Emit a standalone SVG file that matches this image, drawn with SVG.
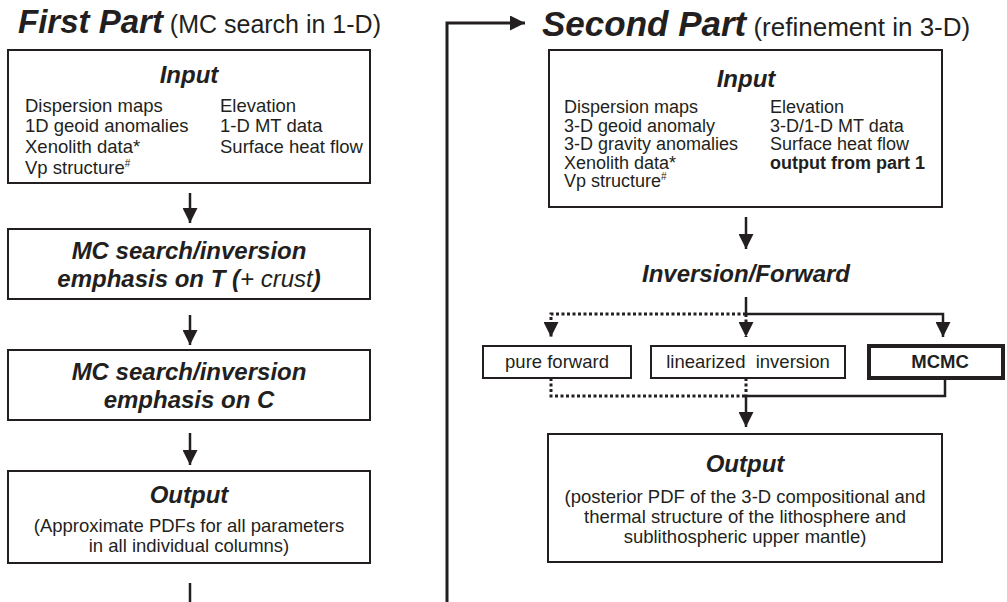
<svg xmlns="http://www.w3.org/2000/svg" width="1007" height="602" viewBox="0 0 1007 602">
<style>
text{font-family:"Liberation Sans",Arial,sans-serif;fill:#231f20}
.title{font-size:33px;font-weight:bold;font-style:italic}
.sub{font-size:25px}
.title2{font-size:35px;font-weight:bold;font-style:italic}
.sub2{font-size:26px}
.head{font-size:24px;font-weight:bold;font-style:italic}
.body{font-size:18.5px}
.body2{font-size:18px}
.bold{font-weight:bold}
.box{fill:#fff;stroke:#231f20;stroke-width:2}
.thick{fill:#fff;stroke:#231f20;stroke-width:4}
.line{fill:none;stroke:#231f20;stroke-width:2.5}
.dot{fill:none;stroke:#231f20;stroke-width:3;stroke-dasharray:3 2.5}
.mid{text-anchor:middle}
</style>
<defs>
<marker id="ah" viewBox="0 0 10 10" refX="10" refY="5" markerUnits="userSpaceOnUse" markerWidth="15" markerHeight="15" orient="auto">
<path d="M0,0 L10,5 L0,10 z" fill="#231f20"/>
</marker>
</defs>

<g id="title-first">
<text x="18" y="33"><tspan class="title">First Part</tspan><tspan class="sub"> (MC search in 1-D)</tspan></text>
</g>
<g id="title-second">
<text x="542" y="36"><tspan class="title2">Second Part</tspan><tspan class="sub2"> (refinement in 3-D)</tspan></text>
</g>

<g id="connectors">
<line class="line" x1="190" y1="193" x2="190" y2="223" marker-end="url(#ah)"/>
<line class="line" x1="190" y1="315" x2="190" y2="345" marker-end="url(#ah)"/>
<line class="line" x1="190" y1="433" x2="190" y2="465" marker-end="url(#ah)"/>
<line class="line" x1="190" y1="583" x2="190" y2="602"/>
<path class="line" style="stroke-width:3" d="M447,602 V23 H525" marker-end="url(#ah)"/>
<line class="line" x1="746" y1="217" x2="746" y2="249" marker-end="url(#ah)"/>
<line class="line" x1="746" y1="297" x2="746" y2="314"/>
<path class="line" d="M746,314 H943 V337" marker-end="url(#ah)"/>
<path class="dot" d="M746,314 H551 V337" marker-end="url(#ah)"/>
<path class="dot" d="M746,314 V337" marker-end="url(#ah)"/>
<path class="dot" d="M551,378 V396 H746"/>
<path class="dot" d="M746,378 V396"/>
<path class="line" d="M945,379 V396 H746"/>
<path class="line" d="M746,396 V427" marker-end="url(#ah)"/>
</g>

<g id="input-1">
<rect class="box" x="8" y="50" width="362" height="133"/>
<text class="head mid" x="189" y="83">Input</text>
<text class="body" x="25" y="112">Dispersion maps</text>
<text class="body" x="25" y="132">1D geoid anomalies</text>
<text class="body" x="25" y="153">Xenolith data*</text>
<text class="body" x="25" y="174">Vp structure<tspan font-size="10" dy="-7">#</tspan></text>
<text class="body" x="220" y="112">Elevation</text>
<text class="body" x="220" y="132">1-D MT data</text>
<text class="body" x="220" y="153">Surface heat flow</text>
</g>

<g id="mc-t">
<rect class="box" x="8" y="229" width="362" height="70"/>
<text class="head mid" x="189" y="259">MC search/inversion</text>
<text class="head mid" x="189" y="287">emphasis on T (<tspan font-weight="normal">+ crust</tspan>)</text>
</g>

<g id="mc-c">
<rect class="box" x="8" y="350" width="362" height="70"/>
<text class="head mid" x="189" y="380">MC search/inversion</text>
<text class="head mid" x="189" y="408">emphasis on C</text>
</g>

<g id="output-1">
<rect class="box" x="8" y="471" width="362" height="92"/>
<text class="head mid" x="189" y="503">Output</text>
<text class="body mid" x="189" y="532">(Approximate PDFs for all parameters</text>
<text class="body mid" x="189" y="552">in all individual columns)</text>
</g>

<g id="input-2">
<rect class="box" x="549" y="50" width="393" height="157"/>
<text class="head mid" x="746" y="87">Input</text>
<text class="body2" x="564" y="113">Dispersion maps</text>
<text class="body2" x="564" y="131.5">3-D geoid anomaly</text>
<text class="body2" x="564" y="150">3-D gravity anomalies</text>
<text class="body2" x="564" y="168.5">Xenolith data*</text>
<text class="body2" x="564" y="187">Vp structure<tspan font-size="10" dy="-7">#</tspan></text>
<text class="body2" x="770" y="113">Elevation</text>
<text class="body2" x="770" y="131.5">3-D/1-D MT data</text>
<text class="body2" x="770" y="150">Surface heat flow</text>
<text class="body2 bold" x="770" y="168.5">output from part 1</text>
</g>

<g id="inversion-forward">
<text class="head mid" x="746" y="282">Inversion/Forward</text>
</g>

<g id="pure-forward">
<rect class="box" x="483" y="346" width="148" height="32"/>
<text class="body mid" x="557" y="368">pure forward</text>
</g>

<g id="linearized">
<rect class="box" x="651" y="346" width="194" height="32"/>
<text class="body mid" x="748" y="368" style="white-space:pre">linearized  inversion</text>
</g>

<g id="mcmc">
<rect class="thick" x="869" y="346" width="134" height="32"/>
<text class="body bold mid" x="940" y="368">MCMC</text>
</g>

<g id="output-2">
<rect class="box" x="548" y="434" width="394" height="128"/>
<text class="head mid" x="745" y="472">Output</text>
<text class="body mid" x="745" y="503">(posterior PDF of the 3-D compositional and</text>
<text class="body mid" x="745" y="523">thermal structure of the lithosphere and</text>
<text class="body mid" x="745" y="543">sublithospheric upper mantle)</text>
</g>
</svg>
